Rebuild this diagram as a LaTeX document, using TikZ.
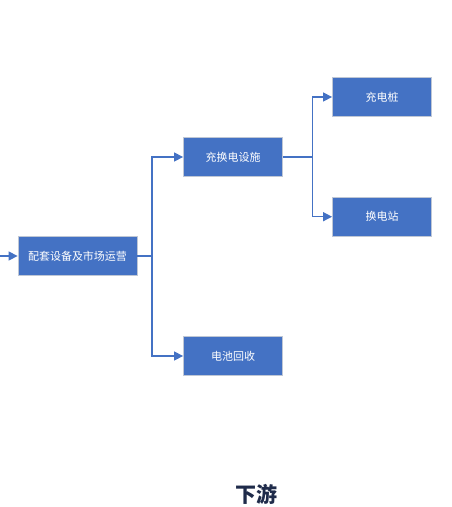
\documentclass[tikz,border=0pt]{standalone}
\usepackage{fontspec}
\setmainfont{Noto Sans CJK SC}
\usetikzlibrary{arrows.meta}
\definecolor{boxblue}{HTML}{4472C4}
\definecolor{boxedge}{HTML}{BFC7D5}
\definecolor{titlecol}{HTML}{1F2B4A}
\tikzset{
  blk/.style={draw=boxedge, line width=0.8pt, fill=boxblue, text=white, minimum width=99pt, minimum height=39pt, inner sep=0pt, font=\fontsize{11}{13}\selectfont},
  conn/.style={draw=boxblue, line width=1.3pt, -{Triangle[length=9pt,width=9pt]}},
  connplain/.style={draw=boxblue, line width=1.3pt}
}
\begin{document}
\begin{tikzpicture}[x=1pt,y=-1pt]
\useasboundingbox (0,0) rectangle (452,507);
\node[blk, minimum width=119pt] (a) at (77.5,256) {配套设备及市场运营};
\node[blk] (b) at (233,157) {充换电设施};
\node[blk] (c) at (382,97) {充电桩};
\node[blk] (d) at (382,216.7) {换电站};
\node[blk] (e) at (233,356) {电池回收};
\node[font=\fontsize{21}{25}\selectfont\bfseries, text=titlecol] (t) at (256,494) {下游};
\coordinate (in) at (0,256);
\coordinate (j1) at (152,256);
\coordinate (j2) at (312.7,157);
\draw[conn] (in) -- (a.west);
\draw[connplain] (a.east) -- (j1);
\draw[conn] (j1) |- (b.west);
\draw[conn] (j1) |- (e.west);
\draw[connplain] (b.east) -- (j2);
\draw[conn] (j2) |- (c.west);
\draw[conn] (j2) |- (d.west);
\end{tikzpicture}
\end{document}
